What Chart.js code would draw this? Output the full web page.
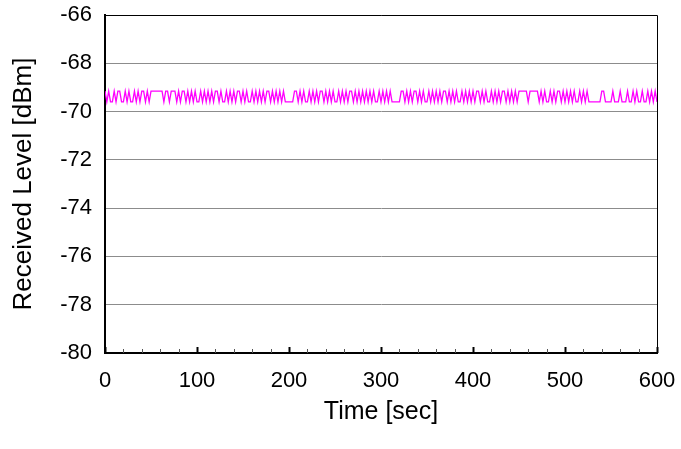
<!DOCTYPE html>
<html>
<head>
<meta charset="utf-8">
<script src="https://cdn.jsdelivr.net/npm/chart.js@4/dist/chart.umd.min.js"></script>
<style>
  html, body { margin: 0; padding: 0; background: #fff; }
  #wrap { width: 681px; height: 449px; }
</style>
</head>
<body>
<div id="wrap"><canvas id="myChart" width="681" height="449"></canvas></div>
<script>
// received level, one sample every 2 s, toggling between two levels
var H = -69.15, L = -69.6;
var sampleSec = 2;
var level = [
  H, L, H, L, L, H, L, H, H, L,
  L, H, L, H, L, L, H, L, H, L,
  H, H, L, H, L,
  H, H, H, H, H, H, H,
  L,
  H, H, L, H, H,
  H, L, H, L, H, H, L, H, L,
  H, L, H, L, L, H, L, H, L, H,
  L, H, L, H, H, L, H, L, L, H,
  L, H, L, H, L, H, H, L, H, L,
  H, L, L, H, L, H, L, H, L, H,
  L, H, H, L, H, L, H, L, H, L,
  H, L,
  L, L, L, L,
  H, H, L, H, L, H, L, L, H, L,
  H, L, H, L, H, H, L, H, L, H,
  L, H, L, L, H, L, H, L, H, L,
  H, H, L, H, L, H, L, H, L, H,
  L, H, L, H, L, L, H, L, H, L,
  H, L, H, L,
  L, L, L, L,
  H, H, L, H, L, H, L, H, H, L,
  H, L, H, L, L, H, L, H, L, H,
  L, H, L, H, H, L, H, L, H, L,
  H, L, L, H, L, H, L, H, L, H,
  L, H, H, L, H, L, H, L, L, H,
  L, H, L, H, L, H, H, L, H, L,
  H, L, H, L,
  H, H, H, H, H, L, H, H, H, H, H,
  L, H, L, H, L, L,
  H, L, H, L, H, H, L, H, L, H, L, H, L, H, L, L, H, L, H, L, H, L,
  L, L, L, L, L, L,
  H, H, L,
  L, L, L, H, L, L,
  L, H, L, L, L, H, L, L,
  H, L, H, L, L, H, L, L, H, L, H, L, H, L
];
var yTicks = [-80, -78, -76, -74, -72, -70, -68, -66];
var xTicks = [0, 100, 200, 300, 400, 500, 600];
var minorStep = 20;

var points = level.map(function (v, i) { return { x: i * sampleSec, y: v }; });

var fontFamily = "'Liberation Sans', Arial, sans-serif";

// frame on top/right plus inward ticks on the time axis
var framePlugin = {
  id: "frame",
  afterDraw: function (chart) {
    var ctx = chart.ctx;
    var a = chart.chartArea;
    var xs = chart.scales.x;
    ctx.save();
    ctx.strokeStyle = "#000";
    ctx.lineWidth = 1;
    ctx.beginPath();
    ctx.moveTo(a.left, a.top + 0.5);
    ctx.lineTo(a.right + 0.5, a.top + 0.5);
    ctx.lineTo(a.right + 0.5, a.bottom);
    ctx.stroke();
    for (var t = 0; t <= 600; t += minorStep) {
      var px = Math.round(xs.getPixelForValue(t)) + 0.5;
      var len = t % 100 === 0 ? 6 : 4;
      ctx.lineWidth = t % 100 === 0 ? 2 : 1;
      ctx.strokeStyle = t % 100 === 0 ? "#000" : "#555";
      ctx.beginPath();
      ctx.moveTo(px, a.bottom);
      ctx.lineTo(px, a.bottom - len);
      ctx.stroke();
    }
    ctx.restore();
  }
};

var ctx = document.getElementById("myChart").getContext("2d");
var myChart = new Chart(ctx, {
  type: "line",
  data: {
    datasets: [{
      data: points,
      borderColor: "#ff00ff",
      borderWidth: 1.3,
      pointRadius: 0,
      tension: 0,
      fill: false
    }]
  },
  options: {
    responsive: false,
    animation: false,
    layout: { padding: { top: 15, right: 24, left: 0, bottom: 0 } },
    plugins: {
      legend: { display: false },
      tooltip: { enabled: false }
    },
    scales: {
      x: {
        type: "linear",
        min: 0,
        max: 600,
        afterFit: function (s) { s.height = 96; s.paddingLeft = 0; s.paddingRight = 0; },
        afterBuildTicks: function (s) { s.ticks = xTicks.map(function (v) { return { value: v }; }); },
        grid: { drawOnChartArea: false, drawTicks: false },
        border: { color: "#000", width: 2 },
        ticks: {
          color: "#000",
          padding: 15,
          font: { family: fontFamily, size: 22 }
        },
        title: {
          display: true,
          text: "Time [sec]",
          color: "#000",
          padding: { top: 0, bottom: 22 },
          font: { family: fontFamily, size: 25 }
        }
      },
      y: {
        min: -80,
        max: -66,
        afterFit: function (s) { s.width = 105; s.paddingTop = 0; s.paddingBottom = 0; },
        afterBuildTicks: function (s) { s.ticks = yTicks.map(function (v) { return { value: v }; }); },
        grid: { color: "#8c8c8c", lineWidth: 1, drawTicks: false },
        border: { color: "#000", width: 2 },
        ticks: {
          color: "#000",
          padding: 13,
          font: { family: fontFamily, size: 22 }
        },
        title: {
          display: true,
          text: "Received Level [dBm]",
          color: "#000",
          padding: { top: 8, bottom: 0 },
          font: { family: fontFamily, size: 26 }
        }
      }
    }
  },
  plugins: [framePlugin]
});
</script>
</body>
</html>
